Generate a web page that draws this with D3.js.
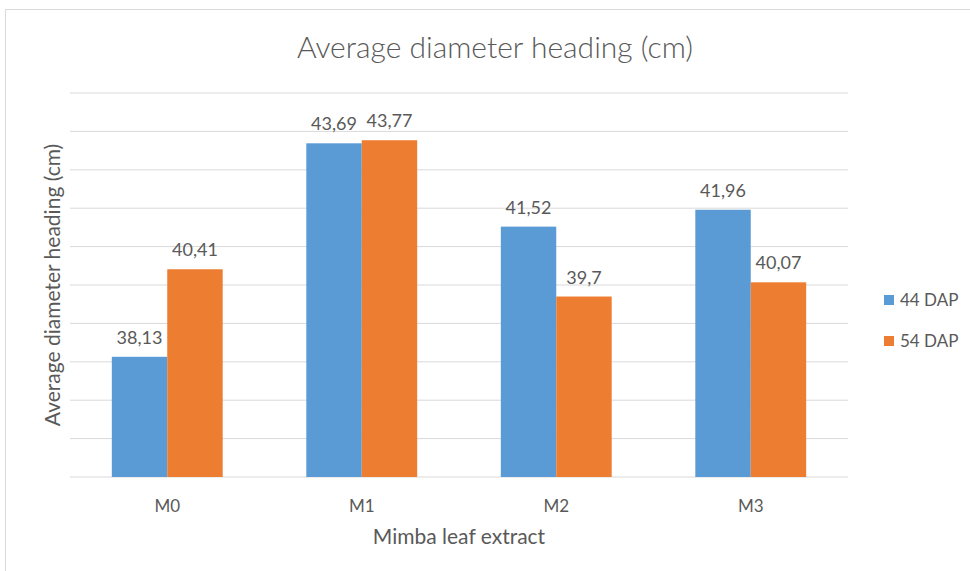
<!DOCTYPE html>
<head>
<meta charset="utf-8">
<style>
  body { margin:0; background:#fff; }
  text { font-family: Lato, "Open Sans", sans-serif; fill:#595959; }
</style>
</head>
<script src="https://d3js.org/d3.v7.min.js"></script>
<div id="my_dataviz"></div>
<script>
  // data
  var categories = ["M0", "M1", "M2", "M3"];
  var seriesNames = ["44 DAP", "54 DAP"];
  var dap44 = [38.13, 43.69, 41.52, 41.96];
  var dap54 = [40.41, 43.77, 39.7, 40.07];
  var colors = ["#5b9bd5", "#ed7d31"];

  var W = 970, H = 571;
  var margin = {top: 93, right: 122, bottom: 94, left: 70},
      width = W - margin.left - margin.right,
      height = H - margin.top - margin.bottom;

  var root = d3.select("#my_dataviz").append("svg")
      .attr("width", W).attr("height", H);

  // chart border
  root.append("rect")
    .attr("x", 5.5).attr("y", 9.5).attr("width", W + 10).attr("height", H + 10)
    .attr("fill", "none").attr("stroke", "#d9d9d9");

  var svg = root.append("g")
      .attr("transform", "translate(" + margin.left + "," + margin.top + ")");

  var x = d3.scaleBand().domain(categories).range([0, width]).paddingInner(0.43).paddingOuter(0.215);
  var x1 = d3.scaleBand().domain(seriesNames).range([0, x.bandwidth()]);
  var y = d3.scaleLinear().domain([35, 45]).range([height, 0]);

  // gridlines
  svg.append("g").selectAll("line").data(y.ticks(10)).enter().append("line")
    .attr("x1", 0).attr("x2", width)
    .attr("y1", d => y(d)).attr("y2", d => y(d))
    .attr("stroke", "#d9d9d9").attr("stroke-width", 1);

  var data = categories.map((c, i) => ({cat: c, vals: [dap44[i], dap54[i]]}));

  var groups = svg.selectAll(".grp").data(data).enter().append("g")
    .attr("transform", d => "translate(" + x(d.cat) + ",0)");

  groups.selectAll("rect").data(d => d.vals.map((v, j) => ({v: v, s: seriesNames[j], j: j})))
    .enter().append("rect")
    .attr("x", d => x1(d.s)).attr("width", x1.bandwidth())
    .attr("y", d => y(d.v)).attr("height", d => height - y(d.v))
    .attr("fill", d => colors[d.j]);

  groups.selectAll("text").data(d => d.vals.map((v, j) => ({v: v, s: seriesNames[j]})))
    .enter().append("text")
    .attr("x", d => x1(d.s) + x1.bandwidth() / 2)
    .attr("y", d => y(d.v) - 13)
    .attr("text-anchor", "middle")
    .style("font-size", "18px")
    .text(d => String(d.v).replace(".", ","));

  // x axis labels
  svg.append("g").selectAll("text").data(categories).enter().append("text")
    .attr("x", d => x(d) + x.bandwidth() / 2)
    .attr("y", height + 35)
    .attr("text-anchor", "middle")
    .style("font-size", "17px")
    .text(d => d);

  // titles
  root.append("text").attr("x", 495).attr("y", 58).attr("text-anchor", "middle")
    .style("font-size", "30px").style("font-weight", 300).text("Average diameter heading (cm)");
  root.append("text").attr("x", 459).attr("y", 544).attr("text-anchor", "middle")
    .style("font-size", "21px").text("Mimba leaf extract");
  root.append("text").attr("transform", "translate(60,285) rotate(-90)").attr("text-anchor", "middle")
    .style("font-size", "21px").text("Average diameter heading (cm)");

  // legend
  var lg = root.append("g").selectAll("g").data(seriesNames).enter().append("g")
    .attr("transform", (d, i) => "translate(884," + (295 + i * 41) + ")");
  lg.append("rect").attr("width", 10).attr("height", 10).attr("fill", (d, i) => colors[i]);
  lg.append("text").attr("x", 16).attr("y", 11).style("font-size", "17px").text(d => d);
</script>
